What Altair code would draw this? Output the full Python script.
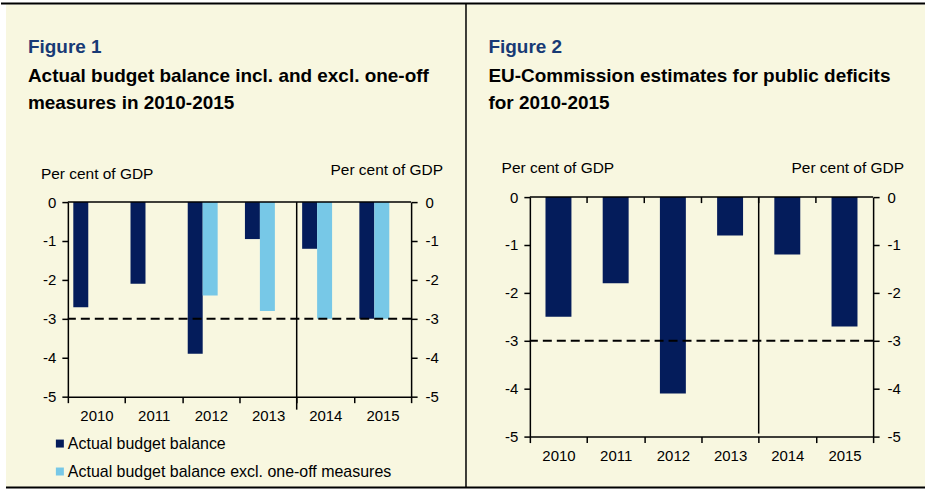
import altair as alt
import pandas as pd

# ---------------- data ----------------
YEARS = ["2010", "2011", "2012", "2013", "2014", "2015"]
SERIES = ["Actual budget balance", "Actual budget balance excl. one-off measures"]
FIG1_ACTUAL = [-2.7, -2.1, -3.9, -0.95, -1.2, -3.0]
FIG1_EXCL = [None, None, -2.4, -2.8, -3.0, -3.0]
FIG2_EC = [-2.5, -1.8, -4.1, -0.8, -1.2, -2.7]
Y_TICKS = [0, -1, -2, -3, -4, -5]
REF_LEVEL = [-3]
ZERO_LEVEL = [0]
FORECAST_START = ["2014"]
FIG_LABELS = ["Figure 1", "Figure 2"]
FIG1_TITLE = ["Actual budget balance incl. and excl. one-off", "measures in 2010-2015"]
FIG2_TITLE = ["EU-Commission estimates for public deficits", "for 2010-2015"]
UNIT = "Per cent of GDP"

# ---------------- styles ----------------
DARK = "#041C5B"
LIGHT = "#77C8E7"
CREAM = "#F8F7E0"
TITLE_BLUE = "#173A75"
FONT = "Liberation Sans"

df1 = pd.DataFrame({
    "year": YEARS * 2,
    "series": [SERIES[0]] * len(YEARS) + [SERIES[1]] * len(YEARS),
    "value": FIG1_ACTUAL + FIG1_EXCL,
}).dropna()
df2 = pd.DataFrame({"year": YEARS, "value": FIG2_EC})
one = pd.DataFrame({"k": [0]})


def y_axis(orient, pad):
    return alt.Axis(orient=orient, values=Y_TICKS, labelExpr="'' + datum.value", title=None,
                    grid=False, domainColor="black", domainWidth=1.5, tickColor="black",
                    tickWidth=1.5, tickSize=6, labelPadding=pad, labelFont=FONT,
                    labelFontSize=15, labelColor="black", zindex=2)


X_AXIS = alt.Axis(title=None, labelAngle=0, tickBand="extent", grid=False, domainColor="black",
                  domainWidth=1.5, tickColor="black", tickWidth=1.5, tickSize=6, labelPadding=6,
                  labelFont=FONT, labelFontSize=15, labelColor="black", zindex=2)
X_SCALE = alt.Scale(domain=YEARS, paddingInner=0, paddingOuter=0)


def txt(text, x, y, size=15.5, bold=False, color="black", align="left"):
    return alt.Chart(pd.DataFrame({"t": [text]})).mark_text(
        align=align, baseline="alphabetic", font=FONT, fontSize=size,
        fontWeight="bold" if bold else "normal", color=color
    ).encode(text="t:N", x=alt.value(x), y=alt.value(y))


def rule_px(x, x2, y, y2, w=2):
    return alt.Chart(one).mark_rule(color="black", strokeWidth=w).encode(
        x=alt.value(x), x2=alt.value(x2), y=alt.value(y), y2=alt.value(y2))


# ---------------- panel 1 ----------------
yscale1 = alt.Scale(domain=[-5, 0], range=[200, 5], nice=False)

bg_white = alt.Chart(one).mark_rect(color="white").encode(
    x=alt.value(-67), x2=alt.value(859), y=alt.value(-197), y2=alt.value(293))
bg_cream = alt.Chart(one).mark_rect(color=CREAM).encode(
    x=alt.value(-62), x2=alt.value(859), y=alt.value(-193), y2=alt.value(291))
frame_top = rule_px(-67, 859, -194, -194)
frame_bottom = rule_px(-62, 859, 291, 291)
frame_mid = rule_px(399, 399, -194, 291, 1.5)

bars1 = alt.Chart(df1).mark_bar().encode(
    x=alt.X("year:N", scale=X_SCALE, axis=X_AXIS, sort=YEARS, title=None),
    xOffset=alt.XOffset("series:N", scale=alt.Scale(domain=SERIES, paddingInner=0,
                                                    paddingOuter=0.911, align=0.2)),
    y=alt.Y("value:Q", scale=yscale1, axis=y_axis("left", 6)),
    color=alt.Color("series:N", scale=alt.Scale(domain=SERIES, range=[DARK, LIGHT]),
                    legend=alt.Legend(title=None, orient="none", legendX=-16, legendY=239,
                                      direction="vertical", symbolType="square",
                                      symbolSize=64, symbolStrokeWidth=0, labelFont=FONT,
                                      labelFontSize=16, labelColor="black", labelOffset=0,
                                      rowPadding=12, padding=0, labelLimit=600)),
)

ref1 = alt.Chart(pd.DataFrame({"v": REF_LEVEL})).mark_rule(
    strokeDash=[9, 5], strokeWidth=2, color="black").encode(
    y=alt.Y("v:Q", scale=yscale1, axis=y_axis("right", 8)))
zero1 = alt.Chart(pd.DataFrame({"v": ZERO_LEVEL})).mark_rule(
    strokeWidth=1.5, color="black").encode(y=alt.Y("v:Q", axis=None))
div1 = alt.Chart(pd.DataFrame({"year": FORECAST_START})).mark_rule(
    strokeWidth=1.5, color="black").encode(
    x=alt.X("year:N", bandPosition=0, title=None),
    y=alt.Y(datum=0, axis=None), y2=alt.value(213))

panel1 = alt.layer(
    bg_white, bg_cream, frame_top, frame_bottom, frame_mid,
    txt(FIG_LABELS[0], -40, -144.3, size=19, bold=True, color=TITLE_BLUE),
    txt(FIG1_TITLE[0], -40, -115.3, size=19, bold=True),
    txt(FIG1_TITLE[1], -40, -88, size=19, bold=True),
    txt(UNIT, -27, -18),
    txt(UNIT, 376, -22, align="right"),
    bars1, ref1, zero1, div1,
).properties(width=344, height=200).resolve_axis(y="independent")

# ---------------- panel 2 ----------------
yscale2 = alt.Scale(domain=[-5, 0], nice=False)

bars2 = alt.Chart(df2).mark_bar(width=26, color=DARK).encode(
    x=alt.X("year:N", scale=X_SCALE, axis=X_AXIS, sort=YEARS, title=None),
    y=alt.Y("value:Q", scale=yscale2, axis=y_axis("left", 6)),
)
ref2 = alt.Chart(pd.DataFrame({"v": REF_LEVEL})).mark_rule(
    strokeDash=[9, 5], strokeWidth=2, color="black").encode(
    y=alt.Y("v:Q", scale=yscale2, axis=y_axis("right", 8)))
zero2 = alt.Chart(pd.DataFrame({"v": ZERO_LEVEL})).mark_rule(
    strokeWidth=1.5, color="black").encode(y=alt.Y("v:Q", axis=None))
zticks2 = alt.Chart(pd.DataFrame({"year": YEARS[1:]})).mark_rule(
    strokeWidth=1.5, color="black").encode(
    x=alt.X("year:N", bandPosition=0, title=None),
    y=alt.Y(datum=0, axis=None), y2=alt.value(6))
div2 = alt.Chart(pd.DataFrame({"year": FORECAST_START})).mark_rule(
    strokeWidth=1.5, color="black").encode(
    x=alt.X("year:N", bandPosition=0, title=None),
    y=alt.Y(datum=0, axis=None), y2=alt.value(237))

panel2 = alt.layer(
    txt(FIG_LABELS[1], -41.5, -144.3, size=19, bold=True, color=TITLE_BLUE),
    txt(FIG2_TITLE[0], -41.5, -115.3, size=19, bold=True),
    txt(FIG2_TITLE[1], -41.5, -88, size=19, bold=True),
    txt(UNIT, -28.3, -23.7),
    txt(UNIT, 375, -23.7, align="right"),
    bars2, ref2, zero2, zticks2, div2,
).properties(width=344, height=240).resolve_axis(y="independent")

chart = alt.hconcat(panel1, panel2, spacing=119, bounds="flush").properties(
    padding=0, background="white"
).configure_view(stroke=None)

chart.save("out.html", embed_options={"renderer": "svg", "actions": False})
